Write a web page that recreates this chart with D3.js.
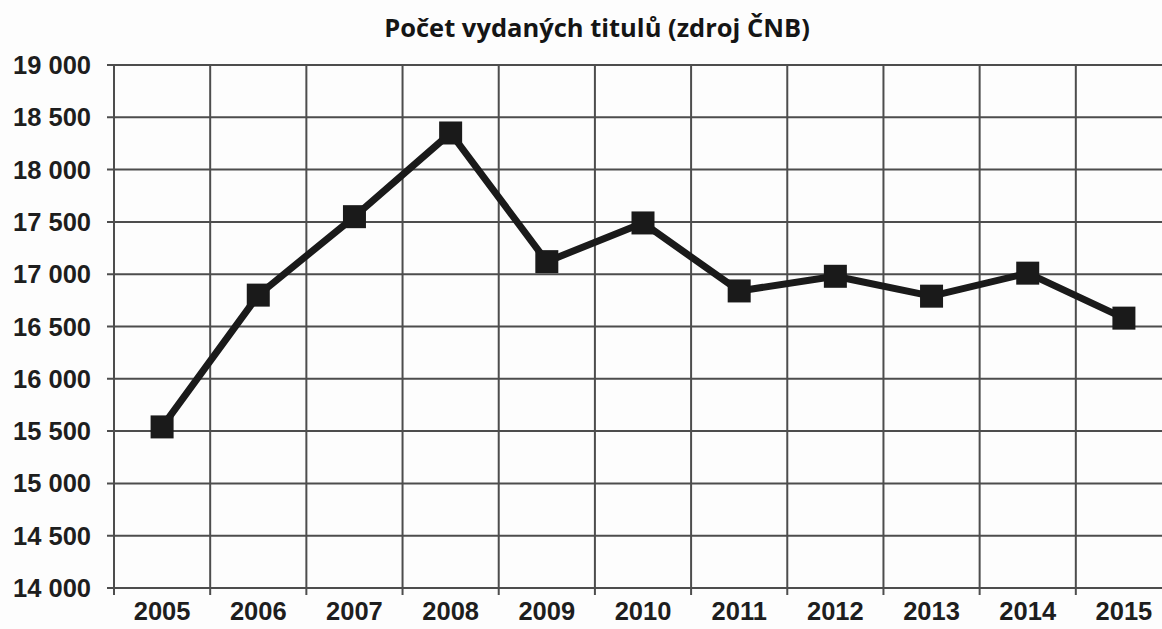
<!DOCTYPE html>
<html>
<head>
<meta charset="utf-8">
<script src="https://cdn.jsdelivr.net/npm/d3@7"></script>
<style>
  body { margin: 0; background: #fdfdfd; }
  svg { display: block; }
</style>
</head>
<body>
<div id="chart"></div>
<script>
// data
const years = ['2005', '2006', '2007', '2008', '2009', '2010', '2011', '2012', '2013', '2014', '2015'];
const titles = [15540, 16800, 17550, 18350, 17120, 17490, 16840, 16980, 16790, 17010, 16580];
const yTicks = [14000, 14500, 15000, 15500, 16000, 16500, 17000, 17500, 18000, 18500, 19000];

window.onload = init;

function init()
{
    const width = 1162;
    const height = 629;
    const svg = d3.select('#chart').append('svg').attr('width', width).attr('height', height);

    const left = 114, right = 1172, top = 65, bottom = 588;

    const x = d3.scaleBand().domain(years).range([left, right]).padding(0);
    const y = d3.scaleLinear().domain([14000, 19000]).range([bottom, top]);

    const fmt = v => d3.format(',')(v).replace(',', ' ');

    // title
    svg.append('text')
        .attr('x', 597).attr('y', 37)
        .attr('text-anchor', 'middle')
        .style('font-family', '"Open Sans", sans-serif')
        .style('font-weight', 'bold')
        .style('font-size', '25.5px')
        .style('fill', '#151515')
        .text('Počet vydaných titulů (zdroj ČNB)');

    // horizontal grid
    svg.append('g').selectAll('line').data(yTicks).enter().append('line')
        .attr('x1', left - 7).attr('x2', right)
        .attr('y1', d => y(d)).attr('y2', d => y(d))
        .attr('stroke', '#4d4d4d').attr('stroke-width', 2);

    // vertical grid (band boundaries)
    svg.append('g').selectAll('line').data(years).enter().append('line')
        .attr('x1', d => x(d)).attr('x2', d => x(d))
        .attr('y1', top).attr('y2', bottom + 7)
        .attr('stroke', '#4d4d4d').attr('stroke-width', 2);

    // y labels
    svg.append('g').selectAll('text').data(yTicks).enter().append('text')
        .attr('x', 91).attr('y', d => y(d) + 9)
        .attr('text-anchor', 'end')
        .style('font-family', '"Liberation Sans", Arial, sans-serif')
        .style('font-weight', 'bold')
        .style('font-size', '25.5px')
        .style('fill', '#1e1e1e')
        .text(fmt);

    // x labels
    svg.append('g').selectAll('text').data(years).enter().append('text')
        .attr('x', d => x(d) + x.bandwidth() / 2).attr('y', 620)
        .attr('text-anchor', 'middle')
        .style('font-family', '"Liberation Sans", Arial, sans-serif')
        .style('font-weight', 'bold')
        .style('font-size', '25.5px')
        .style('fill', '#1e1e1e')
        .text(d => d);

    const pts = years.map((yr, i) => [x(yr) + x.bandwidth() / 2, y(titles[i])]);

    svg.append('path')
        .attr('d', d3.line()(pts))
        .attr('fill', 'none')
        .attr('stroke', '#1a1a1a')
        .attr('stroke-width', 7)
        .attr('stroke-linejoin', 'round');

    svg.append('g').selectAll('rect').data(pts).enter().append('rect')
        .attr('x', d => d[0] - 11.5).attr('y', d => d[1] - 11.5)
        .attr('width', 23).attr('height', 23)
        .attr('fill', '#1a1a1a');
}
</script>
</body>
</html>
